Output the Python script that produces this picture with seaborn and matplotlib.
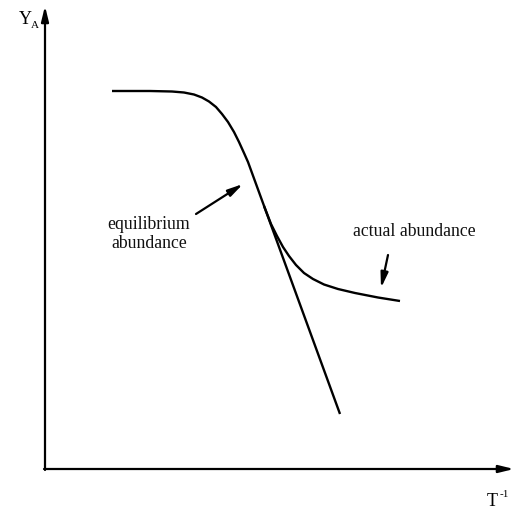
import matplotlib
matplotlib.use("Agg")
import matplotlib.pyplot as plt
import seaborn as sns
import pandas as pd

sns.set_theme(style="white")
plt.rcParams["font.family"] = ["Liberation Serif", "DejaVu Serif"]

# Equilibrium abundance: plateau, then a steep straight fall
eq_x = [112, 150, 172, 184, 194, 202, 209, 216, 222, 228, 234, 239, 244, 248, 340]
eq_y = [92, 92, 92.5, 93.5, 95.5, 98.5, 102.5, 108, 115, 123, 133, 143, 154, 163, 415]

# Actual abundance: follows equilibrium, then freezes out
act_x = [264, 271, 277, 283, 289, 296, 304, 313, 324, 338, 355, 378, 400]
act_y = [207, 225, 237, 248, 257, 266, 274, 280, 285.5, 290, 294, 298.5, 302]

eq = pd.DataFrame({"x": eq_x, "y": eq_y})
act = pd.DataFrame({"x": act_x, "y": act_y})

fig = plt.figure(figsize=(5.14, 5.10), dpi=100)
ax = fig.add_axes([0, 0, 1, 1])
ax.set_xlim(0, 514)
ax.set_ylim(510, 0)
ax.axis("off")

for d in (eq, act):
    sns.lineplot(data=d, x="x", y="y", sort=False, color="black",
                 lw=1.7, ax=ax, legend=False,
                 solid_joinstyle="round", solid_capstyle="butt")

arrow = dict(arrowstyle="-|>,head_length=0.9,head_width=0.22", color="black",
             lw=1.6, mutation_scale=10, shrinkA=0, shrinkB=0)

# coordinate axes
ax.annotate("", xy=(45, 7), xytext=(45, 471), arrowprops=arrow)
ax.annotate("", xy=(514, 470), xytext=(44, 470), arrowprops=arrow)

ax.text(19, 24, "Y", fontsize=13, color="black")
ax.text(31, 28, "A", fontsize=8, color="black")
ax.text(487, 506, "T", fontsize=13, color="black")
ax.text(500, 497, "-1", fontsize=8, color="black")

# labels with pointers
ax.text(149, 234, "equilibrium\nabundance", fontsize=12.8, ha="center",
        va="center", linespacing=1.15, color="#111111")
ax.annotate("", xy=(243, 185), xytext=(196, 215), arrowprops=arrow)

ax.text(414, 232, "actual abundance", fontsize=12.8, ha="center",
        va="center", color="#111111")
ax.annotate("", xy=(381, 289), xytext=(388, 256), arrowprops=arrow)

fig.savefig("out.png", dpi=100)
